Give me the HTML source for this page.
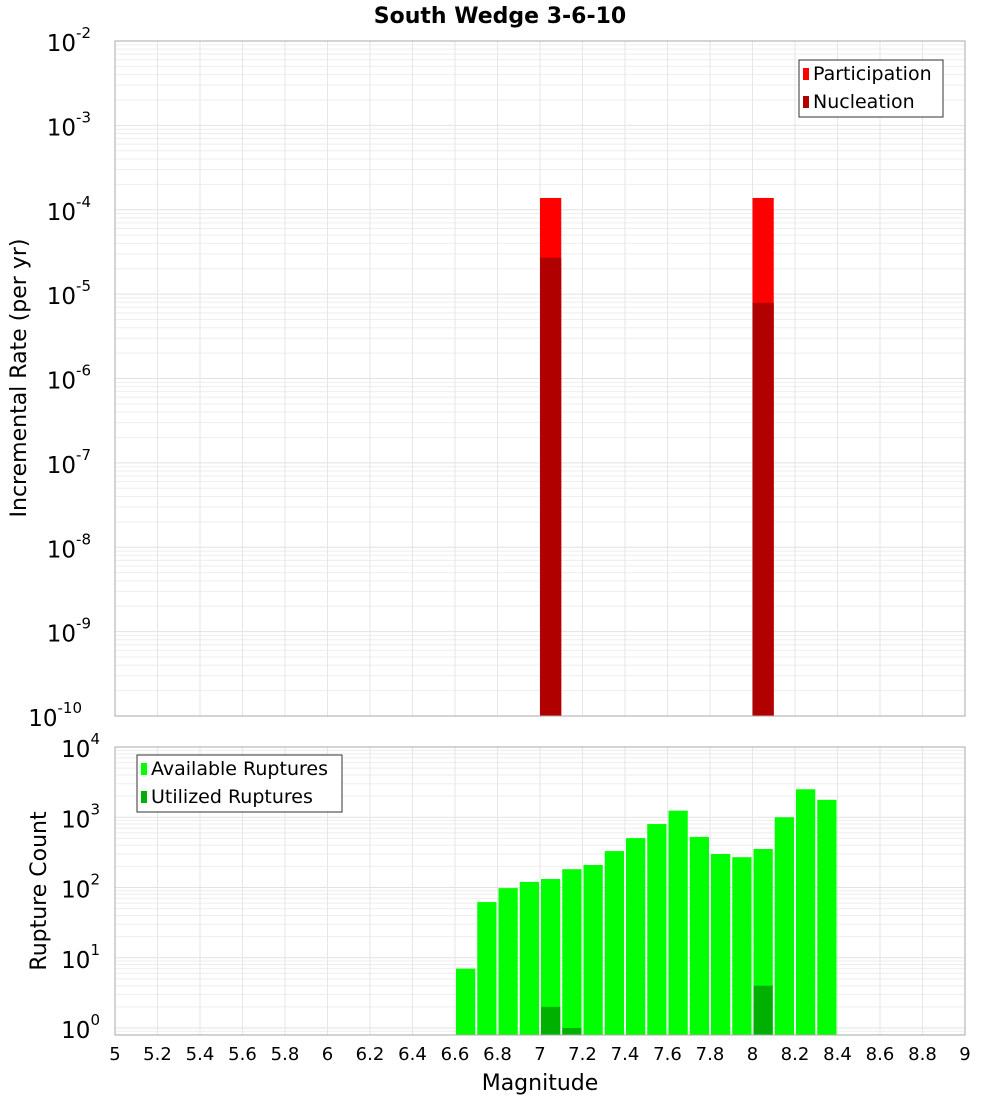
<!DOCTYPE html>
<html><head><meta charset="utf-8"><style>
body{margin:0;background:#fff;width:1000px;height:1100px;overflow:hidden}
svg{font-family:"DejaVu Sans","Liberation Sans",sans-serif}
</style></head><body>
<svg id="c" width="1000" height="1100"></svg>
<script>
const xTicks=[5,5.2,5.4,5.6,5.8,6,6.2,6.4,6.6,6.8,7,7.2,7.4,7.6,7.8,8,8.2,8.4,8.6,8.8,9];
const xTickLabels=["5","5.2","5.4","5.6","5.8","6","6.2","6.4","6.6","6.8","7","7.2","7.4","7.6","7.8","8","8.2","8.4","8.6","8.8","9"];
const topExp=[-2,-3,-4,-5,-6,-7,-8,-9,-10];
const botExp=[4,3,2,1,0];
const rateMags=[7.05,8.05];
const partValues=[1.38e-4,1.38e-4];
const nuclValues=[2.7e-5,7.9e-6];
const cntMags=[6.65,6.75,6.85,6.95,7.05,7.15,7.25,7.35,7.45,7.55,7.65,7.75,7.85,7.95,8.05,8.15,8.25,8.35];
const availValues=[7,62,98,120,132,182,209,330,505,800,1240,525,300,270,353,1000,2500,1770];
const utilMags=[7.05,7.15,8.05];
const utilValues=[2,1,4];

const NS="http://www.w3.org/2000/svg",svg=document.getElementById('c');
function mk(t,a,p){const e=document.createElementNS(NS,t);for(const k in a)e.setAttribute(k,a[k]);(p||svg).appendChild(e);return e;}
const X0=115,X1=965;
const xs=m=>X0+(m-5)/4*(X1-X0);
const T={top:41,bot:716,lo:-10,hi:-2};
const B={top:747,bot:1035,lo:Math.log10(1)-(1035-1028)/70.25,hi:4};
const ys=(P,v)=>P.bot-(Math.log10(v)-P.lo)/(P.hi-P.lo)*(P.bot-P.top);

function grid(P,name){
  const g=mk('g',{});
  
  for(let e=Math.floor(P.lo);e<P.hi;e++)for(let k=1;k<10;k++){const y=ys(P,k*Math.pow(10,e));if(y<P.top||y>P.bot)continue;
    mk('line',{x1:X0,x2:X1,y1:y,y2:y,stroke:k==1?'#e2e2e2':'#eeeeee','stroke-width':1},g);}
  xTicks.forEach(m=>mk('line',{x1:xs(m),x2:xs(m),y1:P.top,y2:P.bot,stroke:'#e6e6e6'},g));
}
function frame(P,name){const r=mk('rect',{x:X0,y:P.top,width:X1-X0,height:P.bot-P.top,fill:'none',stroke:'#aaa'});
  }
function ylabels(P,exps,name){
  exps.forEach(e=>{const y=ys(P,Math.pow(10,e));const t=mk('text',{x:X0-6,y:y+10,'text-anchor':'end','font-size':23,fill:'#000'});
    
    t.textContent='10';const s=mk('tspan',{dy:-13,'font-size':15},t);s.textContent=String(e);
    t.setAttribute('x',X0-6-(String(e).length*9));});
}
grid(T,'top');grid(B,'bottom');
const w=(X1-X0)/40;
// top bars
rateMags.forEach((m,i)=>{
  const r=mk('rect',{x:xs(m)-w/2,y:ys(T,partValues[i]),width:w,height:T.bot-ys(T,partValues[i]),fill:'#ff0000'});
  
  const n=mk('rect',{x:xs(m)-w/2,y:ys(T,nuclValues[i]),width:w,height:T.bot-ys(T,nuclValues[i]),fill:'#b00000'});
  
});
cntMags.forEach((m,i)=>{const y=ys(B,availValues[i]);
  const r=mk('rect',{x:xs(m)-w/2+1,y:y,width:w-2,height:B.bot-y,fill:'#00ff00'});
  });
utilMags.forEach((m,i)=>{const y=ys(B,utilValues[i]);
  const r=mk('rect',{x:xs(m)-w/2+1,y:y,width:w-2,height:B.bot-y,fill:'#00b000'});
  });
frame(T,'top');frame(B,'bottom');
ylabels(T,topExp,'top-y');ylabels(B,botExp,'bottom-y');
xTicks.forEach((m,i)=>{const t=mk('text',{x:xs(m),y:1060,'text-anchor':'middle','font-size':18});
  t.textContent=xTickLabels[i];});
function txt(s,a,name){const t=mk('text',a);t.textContent=s;return t;}
txt('South Wedge 3-6-10',{x:500,y:23,'text-anchor':'middle','font-size':22,'font-weight':'bold'},'chart-title');
txt('Magnitude',{x:540,y:1090,'text-anchor':'middle','font-size':22},'x-axis-title');
txt('Incremental Rate (per yr)',{x:0,y:0,'text-anchor':'middle','font-size':22,transform:'translate(26,378) rotate(-90)'},'top-y-axis-title');
txt('Rupture Count',{x:0,y:0,'text-anchor':'middle','font-size':22,transform:'translate(46,891) rotate(-90)'},'bottom-y-axis-title');
function legend(x,y,wd,items,name){const g=mk('g',{});
  mk('rect',{x:x,y:y,width:wd,height:57,fill:'#fff',stroke:'#333'},g);
  items.forEach((it,i)=>{mk('rect',{x:x+4,y:y+8+i*28,width:6,height:12,fill:it[1]},g);
    const t=mk('text',{x:x+14,y:y+20+i*28,'font-size':19},g);t.textContent=it[0];});}
legend(799,60,144,[['Participation','#ff0000'],['Nucleation','#b00000']],'top-legend');
legend(137,755,205,[['Available Ruptures','#00ff00'],['Utilized Ruptures','#00b000']],'bottom-legend');
</script></body></html>
